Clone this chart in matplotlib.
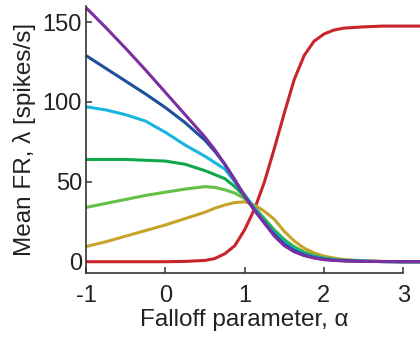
import numpy as np
import matplotlib.pyplot as plt

plt.rcParams['font.family'] = ['Liberation Sans', 'DejaVu Sans']
plt.rcParams['axes.unicode_minus'] = False

# falloff parameter values (x)
alpha = [-1, -0.75, -0.5, -0.25, 0, 0.25, 0.5, 0.625, 0.75, 0.875, 1.0, 1.125,
         1.25, 1.375, 1.5, 1.625, 1.75, 1.875, 2.0, 2.125, 2.25, 2.5, 2.75, 3.0, 3.3]

# mean firing rate curves (spikes/s)
red = [0, 0, 0, 0, 0, 0.2, 0.8, 2, 5, 10, 20, 33,
       50, 71, 93, 114, 129, 138, 142.5, 145, 146.2, 147, 147.5, 147.5, 147.5]
gold = [9.5, 12.5, 16, 19.5, 23, 27, 31, 33.5, 35.5, 37, 37.5, 35.5,
        31.5, 26.5, 19, 13, 8.5, 5.5, 3.5, 2.3, 1.4, 0.5, 0.2, 0, 0]
lgreen = [34, 36.5, 39, 41.5, 43.5, 45.5, 47, 46.5, 45, 43, 39.5, 34,
          27, 20, 14, 9.5, 6.2, 4, 2.5, 1.6, 1, 0.4, 0.1, 0, 0]
green = [64, 64, 64, 63.5, 63, 61, 57, 54.5, 52, 47, 41, 33.5,
         26, 19, 13, 8.5, 5.4, 3.4, 2.1, 1.3, 0.8, 0.3, 0.1, 0, 0]
cyan = [97, 95, 92, 88, 81, 73, 66, 62, 58, 50, 42, 33.5,
        25, 18, 12, 7.8, 4.8, 3, 1.8, 1.1, 0.7, 0.3, 0.1, 0, 0]
blue = [129, 121, 113, 105, 96.5, 87, 76, 69, 61, 51, 41, 32.5,
        24.5, 17, 11, 7, 4.3, 2.6, 1.5, 0.9, 0.6, 0.2, 0.1, 0, 0]
purple = [159, 146.5, 133.5, 120, 106, 92, 78, 70, 61, 51.5, 41, 32,
          24, 16, 10, 6.2, 3.8, 2.3, 1.3, 0.8, 0.5, 0.2, 0.1, 0, 0]

series = [red, gold, lgreen, green, cyan, blue, purple]
colors = ['#c8242b', '#c9a22b', '#62c046', '#12a84a', '#19b4e0', '#1d4f9c', '#7b2fa0']

fig = plt.figure(figsize=(4.2, 3.39), dpi=100)
ax = fig.add_axes([0.205, 0.195, 0.755, 0.787])

for ys, c in zip(series, colors):
    ax.plot(alpha, ys, color=c, linewidth=2.2, clip_on=False, solid_capstyle='butt')

ax.set_xlim(-1, 3)
ax.set_ylim(-7, 160)
ax.set_xticks([-1, 0, 1, 2, 3])
ax.set_yticks([0, 50, 100, 150])

for s in ['top', 'right']:
    ax.spines[s].set_visible(False)
for s in ['left', 'bottom']:
    ax.spines[s].set_linewidth(1.2)
    ax.spines[s].set_color('#333333')

ax.tick_params(direction='in', length=4, width=1.1, color='#333333',
               labelsize=17, labelcolor='#222222')
ax.tick_params(axis='x', pad=9)
ax.tick_params(axis='y', pad=3)

ax.set_xlabel('Falloff parameter, α', fontsize=17.5, color='#222222', labelpad=1)
ax.set_ylabel('Mean FR, λ [spikes/s]', fontsize=17.5, color='#222222', labelpad=5)

fig.savefig('out.png', dpi=100)
